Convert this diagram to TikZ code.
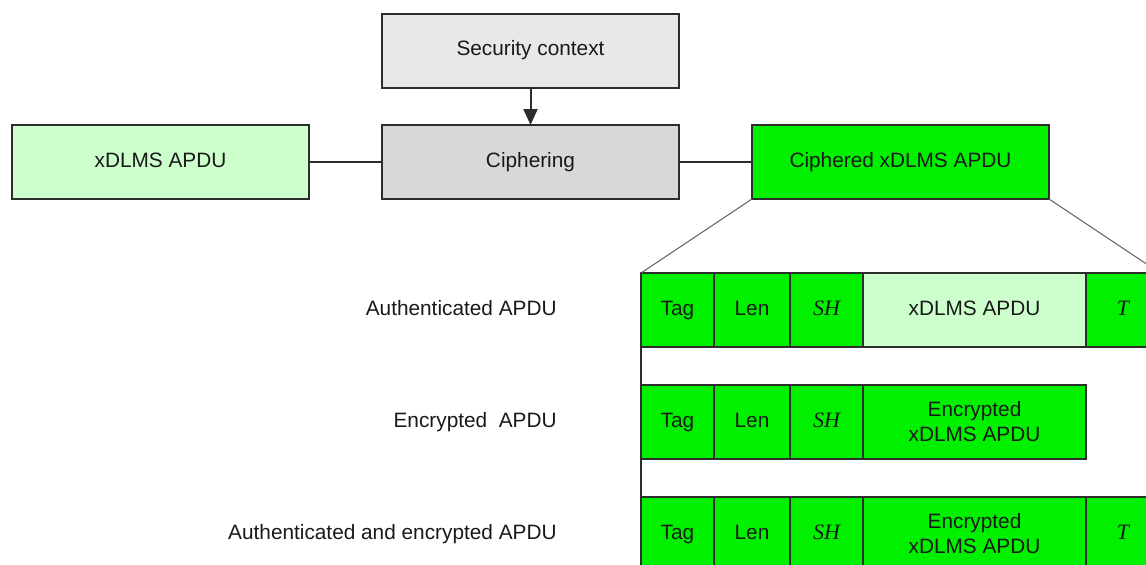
\documentclass[tikz,border=0pt]{standalone}
\usepackage{fontspec}
\setmainfont{Liberation Sans}
\newfontfamily\serifit{Liberation Serif}
\usetikzlibrary{arrows.meta}
\definecolor{lgreen}{RGB}{204,255,204}
\definecolor{bgreen}{RGB}{0,240,0}
\definecolor{lgray}{RGB}{232,232,232}
\definecolor{mgray}{RGB}{216,216,216}
\definecolor{edge}{RGB}{45,45,45}
\definecolor{txt}{RGB}{25,25,25}
\tikzset{
  box/.style={draw=edge, line width=1pt, rectangle, inner sep=0pt, outer sep=0pt,
    align=center, text=txt, font=\fontsize{10.4pt}{12.5pt}\selectfont},
  one/.style={text height=7.5pt, text depth=2.2pt},
  bigbox/.style={box, one, minimum width=148.5pt, minimum height=37pt},
  cell/.style={box, minimum height=37pt},
  conn/.style={draw=edge, line width=0.8pt},
  diag/.style={draw=gray!80!black, line width=0.5pt},
  lbl/.style={anchor=east, one, text=txt, inner sep=0pt, font=\fontsize{10.4pt}{12.5pt}\selectfont},
  it/.style={font=\fontsize{11pt}{12.5pt}\serifit\itshape}
}
\begin{document}
\begin{tikzpicture}[x=0.5pt,y=-0.5pt]
\useasboundingbox (0,0) rectangle (1146,564);
\clip (0,0) rectangle (1146,564);
% top row
\node[bigbox, fill=lgray] (sec) at (530.5,50.5) {Security context};
\node[bigbox, fill=lgreen] (xin) at (160.5,162) {xDLMS APDU};
\node[bigbox, fill=mgray] (ciph) at (530.5,162) {Ciphering};
\node[bigbox, fill=bgreen] (out) at (900.5,162) {Ciphered xDLMS APDU};
\draw[conn, line width=1pt, -{Triangle[length=8pt,width=7pt]}] (sec.south) -- (ciph.north);
\draw[conn] (xin.east) -- (ciph.west);
\draw[conn] (ciph.east) -- (out.west);
% row 1: authenticated
\node[cell, one, fill=bgreen, minimum width=36.5pt] (tagA) at (677.5,310) {Tag};
\node[cell, one, fill=bgreen, minimum width=38pt] (lenA) at (752,310) {Len};
\node[cell, one, fill=bgreen, minimum width=36.5pt, it] (shA) at (826.5,310) {SH};
\node[cell, one, fill=lgreen, minimum width=111.5pt] (payA) at (974.5,310) {xDLMS APDU};
\node[cell, one, fill=bgreen, minimum width=37pt, it] (tA) at (1123,310) {T};
% row 2: encrypted
\node[cell, one, fill=bgreen, minimum width=36.5pt] (tagB) at (677.5,422) {Tag};
\node[cell, one, fill=bgreen, minimum width=38pt] (lenB) at (752,422) {Len};
\node[cell, one, fill=bgreen, minimum width=36.5pt, it] (shB) at (826.5,422) {SH};
\node[cell, fill=bgreen, minimum width=111.5pt] (payB) at (974.5,422) {Encrypted\\xDLMS APDU};
% row 3: authenticated and encrypted
\node[cell, one, fill=bgreen, minimum width=36.5pt] (tagC) at (677.5,534) {Tag};
\node[cell, one, fill=bgreen, minimum width=38pt] (lenC) at (752,534) {Len};
\node[cell, one, fill=bgreen, minimum width=36.5pt, it] (shC) at (826.5,534) {SH};
\node[cell, fill=bgreen, minimum width=111.5pt] (payC) at (974.5,534) {Encrypted\\xDLMS APDU};
\node[cell, one, fill=bgreen, minimum width=37pt, it] (tC) at (1123,534) {T};
% left bracket line joining rows
\draw[draw=edge, line width=1pt] (tagA.south west) -- (tagB.north west);
\draw[draw=edge, line width=1pt] (tagB.south west) -- (tagC.north west);
% zoom lines
\draw[diag] (out.south west) -- (tagA.north west);
\draw[diag] (out.south east) -- (tA.north east);
% labels
\node[lbl] (lA) at (557,310) {Authenticated APDU};
\node[lbl] (lB) at (557,422) {Encrypted\ \ APDU};
\node[lbl] (lC) at (557,534) {Authenticated and encrypted APDU};
\end{tikzpicture}
\end{document}
